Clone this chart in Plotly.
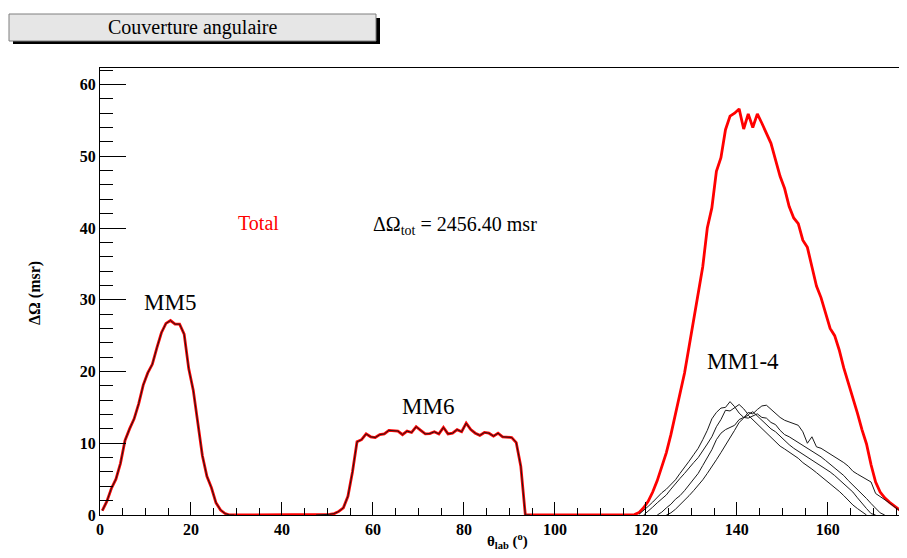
import plotly.graph_objects as go

# ---------------- data ----------------
theta_total = [i + 0.5 for i in range(178)]  # 1-degree bin centres 0.5 .. 177.5

total_vals = (
    # 0.5 .. 28.5  (MM5)
    [0.6, 1.9, 3.7, 5.0, 7.2, 10.4, 12.0, 13.4, 15.5, 18.1, 19.8, 21.0, 23.3, 25.4,
     26.7, 27.1, 26.6, 26.6, 25.2, 20.4, 17.4, 12.6, 8.3, 5.4, 3.8, 1.7, 0.7, 0.2, 0.0]
    # 29.5 .. 47.5
    + [0.0] * 19
    # 48.5 .. 93.5  (MM6)
    + [0.0, 0.05, 0.1, 0.2, 0.5, 1.0, 2.6, 6.0, 10.2, 10.5, 11.3, 10.9, 10.8, 11.2,
       11.3, 11.8, 11.7, 11.7, 11.2, 11.7, 11.5, 12.3, 11.8, 11.3, 11.35, 11.6, 11.3,
       12.2, 11.3, 11.4, 11.9, 11.6, 12.8, 11.9, 11.4, 11.1, 11.5, 11.4, 11.0, 11.4,
       10.9, 10.8, 10.8, 10.1, 6.8, 0.0]
    # 94.5 .. 116.5
    + [0.0] * 23
    # 117.5 .. 177.5  (MM1-4)
    + [0.05, 0.35, 1.0, 1.9, 3.2, 4.8, 6.6, 8.7, 11.2, 14.0, 16.8, 19.8, 23.5, 27.2,
       31.5, 34.6, 40.0, 42.8, 47.9, 49.8, 53.7, 55.6, 56.0, 56.6, 53.8, 55.9, 54.0,
       55.9, 54.6, 53.3, 51.8, 49.5, 47.2, 45.5, 43.0, 41.4, 40.6, 38.3, 37.3, 34.6,
       31.9, 30.3, 28.0, 26.0, 25.0, 23.0, 20.5, 18.4, 16.5, 14.2, 11.9, 9.9, 7.0,
       4.6, 3.2, 2.4, 1.8, 1.3, 0.8, 0.35, 0.05]
)

mm5_theta = [i + 0.5 for i in range(0, 30)]
mm5_vals = [0.6, 1.9, 3.7, 5.0, 7.2, 10.4, 12.0, 13.4, 15.5, 18.1, 19.8, 21.0, 23.3, 25.4,
            26.7, 27.1, 26.6, 26.6, 25.2, 20.4, 17.4, 12.6, 8.3, 5.4, 3.8, 1.7, 0.7, 0.2,
            0.0, 0.0]

mm6_theta = [i + 0.5 for i in range(47, 95)]
mm6_vals = [0.0, 0.0, 0.05, 0.1, 0.2, 0.5, 1.0, 2.6, 6.0, 10.2, 10.5, 11.3, 10.9, 10.8,
            11.2, 11.3, 11.8, 11.7, 11.7, 11.2, 11.7, 11.5, 12.3, 11.8, 11.3, 11.35,
            11.6, 11.3, 12.2, 11.3, 11.4, 11.9, 11.6, 12.8, 11.9, 11.4, 11.1, 11.5,
            11.4, 11.0, 11.4, 10.9, 10.8, 10.8, 10.1, 6.8, 0.0, 0.0]

mma_theta = [i + 0.5 for i in range(118, 169)]
mma_vals = [0.1, 0.6, 1.2, 1.8, 2.5, 3.1, 3.6, 4.2, 4.9, 5.8, 6.6, 7.5, 8.4, 9.3, 10.5,
            11.8, 13.4, 14.3, 14.9, 15.0, 15.8, 15.1, 14.2, 13.6, 13.9, 13.3, 12.6,
            12.1, 11.5, 10.9, 10.2, 9.6, 9.2, 8.8, 8.3, 7.9, 7.3, 6.9, 6.4, 5.9, 5.4,
            4.9, 4.4, 3.8, 3.3, 2.7, 2.0, 1.4, 0.9, 0.4, 0.0]

mmb_theta = [i + 0.5 for i in range(119, 171)]
mmb_vals = [0.0, 0.5, 1.1, 1.7, 2.3, 2.8, 3.6, 4.4, 5.1, 5.8, 6.6, 7.3, 8.0, 8.9, 9.9,
            10.9, 12.3, 13.3, 14.6, 14.5, 14.9, 15.4, 14.8, 14.0, 14.4, 13.8, 13.2,
            12.6, 12.0, 11.6, 11.0, 10.3, 9.8, 9.3, 8.9, 8.5, 8.1, 7.7, 7.3, 6.9, 6.5,
            6.0, 5.5, 4.9, 4.4, 3.8, 3.2, 2.4, 1.6, 0.9, 0.2, 0.0]

mmc_theta = [i + 0.5 for i in range(122, 173)]
mmc_vals = [0.0, 0.4, 1.0, 1.5, 2.2, 2.7, 3.4, 4.2, 5.0, 5.8, 6.9, 8.0, 9.1, 10.5, 11.4,
            11.9, 12.2, 12.5, 13.3, 13.6, 13.5, 13.8, 14.1, 13.6, 13.5, 12.9, 12.6,
            11.8, 11.2, 10.9, 10.5, 10.2, 9.8, 9.4, 9.0, 8.6, 8.1, 7.6, 7.1, 6.6, 6.1,
            5.5, 4.8, 4.2, 3.6, 3.0, 2.3, 1.6, 0.9, 0.3, 0.0]

mmd_theta = [i + 0.5 for i in range(124, 178)]
mmd_vals = [0.0, 0.3, 0.8, 1.4, 2.0, 2.7, 3.4, 4.1, 4.9, 5.8, 6.7, 7.7, 8.7, 9.7, 10.8,
            11.8, 12.9, 13.5, 14.3, 14.1, 14.7, 15.2, 15.3, 14.7, 14.1, 13.6, 13.2,
            13.0, 12.7, 12.5, 11.6, 10.0, 10.9, 9.5, 9.3, 8.9, 8.6, 8.1, 7.7, 7.3, 6.8,
            6.1, 5.7, 5.3, 4.9, 4.6, 3.0, 2.6, 2.2, 1.7, 1.2, 0.7, 0.3, 0.05]

x_ticks = [0, 20, 40, 60, 80, 100, 120, 140, 160]
y_ticks = [0, 10, 20, 30, 40, 50, 60]

# ---------------- layout helpers ----------------
OFF = 8                      # page body margin in the browser
W, H = 907 - OFF, 558 - 2 * OFF
ML, MR, MT = 100 - OFF, 0, 68 - OFF
MB = H - (515 - OFF)
PW, PH = W - ML - MR, H - MT - MB
SERIF = "Liberation Serif, Times New Roman, serif"


def px(xp):
    """reference-screenshot x pixel -> paper coordinate"""
    return (xp - OFF - ML) / PW


def py(yp):
    """reference-screenshot y pixel -> paper coordinate"""
    return (H - MB - (yp - OFF)) / PH


fig = go.Figure()

fig.add_trace(go.Scatter(x=theta_total, y=total_vals, mode="lines",
                         line=dict(color="#ff0000", width=2.8), hoverinfo="skip"))
for xs, ys in [(mm5_theta, mm5_vals), (mm6_theta, mm6_vals),
               (mma_theta, mma_vals), (mmb_theta, mmb_vals),
               (mmc_theta, mmc_vals), (mmd_theta, mmd_vals)]:
    fig.add_trace(go.Scatter(x=xs, y=ys, mode="lines",
                             line=dict(color="#1a1a1a", width=1), hoverinfo="skip"))

tickfont = dict(family=SERIF, size=16, color="black", weight="bold")

fig.update_xaxes(range=[0, 177.4], showline=True, linecolor="black", linewidth=1,
                 mirror=True, ticks="inside", ticklen=13, tickwidth=1, tickcolor="black",
                 tickvals=x_ticks, ticktext=[str(v) for v in x_ticks], tickfont=tickfont,
                 minor=dict(dtick=5, tick0=0, ticklen=7, ticks="inside", tickcolor="black",
                            tickwidth=1, showgrid=False),
                 showgrid=False, zeroline=False)
fig.update_yaxes(range=[0, 62.3], showline=True, linecolor="black", linewidth=1,
                 ticks="inside", ticklen=26, tickwidth=1, tickcolor="black",
                 tickvals=y_ticks, ticktext=[str(v) for v in y_ticks], tickfont=tickfont,
                 minor=dict(dtick=2, tick0=0, ticklen=13, ticks="inside", tickcolor="black",
                            tickwidth=1, showgrid=False),
                 showgrid=False, zeroline=False)

shapes = [
    dict(type="rect", xref="paper", yref="paper", x0=px(13), x1=px(380), y0=py(44), y1=py(18),
         fillcolor="black", line=dict(width=0), layer="above"),
    dict(type="rect", xref="paper", yref="paper", x0=px(9), x1=px(376), y0=py(41), y1=py(14),
         fillcolor="#e6e6e6", line=dict(color="#7f7f7f", width=1), layer="above"),
]

ann = [
    dict(x=px(192), y=py(28), text="Couverture angulaire", font=dict(family=SERIF, size=20, color="black")),
    dict(x=px(258), y=py(223), text="Total", font=dict(family=SERIF, size=20, color="#ff0000")),
    dict(x=px(372), y=py(225), text="ΔΩ<sub>tot</sub> = 2456.40 msr", xanchor="left",
         font=dict(family=SERIF, size=20, color="black")),
    dict(x=px(170), y=py(302), text="MM5", font=dict(family=SERIF, size=23, color="black")),
    dict(x=px(428), y=py(406), text="MM6", font=dict(family=SERIF, size=23, color="black")),
    dict(x=px(743), y=py(361), text="MM1-4", font=dict(family=SERIF, size=23, color="black")),
    dict(x=px(35), y=py(293), text="<b>ΔΩ (msr)</b>", textangle=-90,
         font=dict(family=SERIF, size=16, color="black")),
    dict(x=px(507), y=py(541), text="<b>θ<sub>lab</sub> (<sup>o</sup>)</b>",
         font=dict(family=SERIF, size=15, color="black")),
]
annotations = []
for a in ann:
    d = dict(xref="paper", yref="paper", showarrow=False, xanchor="center", yanchor="middle",
             borderpad=0)
    d.update(a)
    annotations.append(d)

fig.update_layout(width=W, height=H, margin=dict(l=ML, r=MR, t=MT, b=MB, pad=0),
                  paper_bgcolor="white", plot_bgcolor="white", showlegend=False,
                  shapes=shapes, annotations=annotations)

fig.write_html("out.html")
